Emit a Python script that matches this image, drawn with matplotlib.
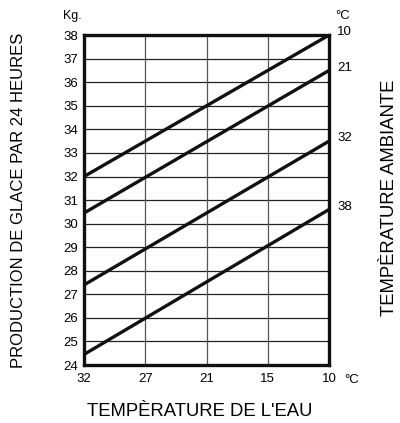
import numpy as np
import matplotlib
matplotlib.use("Agg")
import matplotlib.pyplot as plt

plt.rcParams['font.family'] = ['Liberation Sans', 'DejaVu Sans']

water_temps = ['32', '27', '21', '15', '10']
ambient_temps = ['10', '21', '32', '38']
# production (kg) at water temp 32 and at 10, for each ambient temp
prod_start = [32.0, 30.45, 27.4, 24.45]
prod_end = [38.0, 36.5, 33.5, 30.6]
y_ticks = list(range(24, 39))

fig = plt.figure(figsize=(4.0, 4.23), dpi=100)
ax = fig.add_axes([0.21, 0.137, 0.6125, 0.780])

xpos = np.arange(len(water_temps))
for s, e, lab in zip(prod_start, prod_end, ambient_temps):
    ax.plot([xpos[0], xpos[-1]], [s, e], color='#111111', lw=2.4,
            solid_capstyle='butt', zorder=3)
    ax.text(xpos[-1] + 0.13, e + 0.12, lab, ha='left', va='center', fontsize=9.5)

ax.set_xlim(xpos[0], xpos[-1])
ax.set_ylim(24, 38)
ax.set_xticks(xpos)
ax.set_xticklabels(water_temps)
ax.set_yticks(y_ticks)
ax.tick_params(length=0, labelsize=9.5)
ax.tick_params(axis='x', pad=6)
ax.tick_params(axis='y', pad=4)

for v in y_ticks[1:-1]:
    ax.axhline(v, color='#222222', lw=0.9, zorder=1)
for p in xpos[1:-1]:
    ax.axvline(p, color='#555555', lw=0.9, zorder=1)

for sp in ax.spines.values():
    sp.set_linewidth(2.4)
    sp.set_color('#111111')

fig.text(72 / 400, 1 - 16 / 423, 'Kg.', ha='center', va='center', fontsize=9)
fig.text(343 / 400, 1 - 16 / 423, '°C', ha='center', va='center', fontsize=9.5)
fig.text(352 / 400, 1 - 380 / 423, '°C', ha='center', va='center', fontsize=9.5)

fig.text(200 / 400, 1 - 411 / 423, "TEMPÈRATURE DE L'EAU", ha='center', va='center',
         fontsize=13.3)
fig.text(19 / 400, 1 - 200 / 423, 'PRODUCTION DE GLACE PAR 24 HEURES', ha='center',
         va='center', rotation=90, fontsize=12)
fig.text(390 / 400, 1 - 198 / 423, 'TEMPÈRATURE AMBIANTE', ha='center', va='center',
         rotation=90, fontsize=13.3)

fig.savefig('out.png', dpi=100, facecolor='white')
